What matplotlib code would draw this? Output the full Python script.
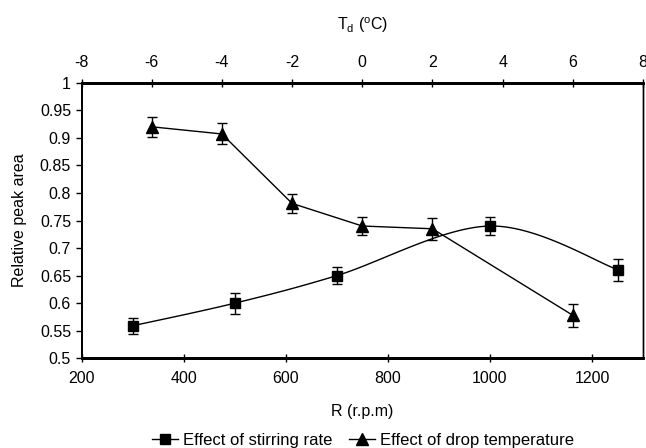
import numpy as np
import matplotlib
matplotlib.use("Agg")
import matplotlib.pyplot as plt
from matplotlib.lines import Line2D

plt.rcParams['font.family'] = ['Liberation Sans', 'DejaVu Sans']

# Effect of stirring rate (bottom axis)
rpm = [300, 500, 700, 1000, 1250]
area_rpm = [0.559, 0.600, 0.650, 0.740, 0.661]
err_rpm = [0.014, 0.019, 0.015, 0.016, 0.020]

# Effect of drop temperature (top axis)
temp = [-6, -4, -2, 0, 2, 6]
area_temp = [0.920, 0.907, 0.781, 0.740, 0.735, 0.578]
err_temp = [0.018, 0.019, 0.017, 0.016, 0.020, 0.021]

x_ticks = [200, 400, 600, 800, 1000, 1200]
t_ticks = [-8, -6, -4, -2, 0, 2, 4, 6, 8]
y_ticks = [0.5, 0.55, 0.6, 0.65, 0.7, 0.75, 0.8, 0.85, 0.9, 0.95, 1]


def smooth(xs, ys, n=30):
    # Catmull-Rom (Excel-style smoothed line)
    P = np.column_stack([xs, ys]).astype(float)
    out = []
    for i in range(len(P) - 1):
        p0 = P[i - 1] if i > 0 else P[i]
        p1, p2 = P[i], P[i + 1]
        p3 = P[i + 2] if i + 2 < len(P) else P[i + 1]
        c1 = p1 + (p2 - p0) / 6.0
        c2 = p2 - (p3 - p1) / 6.0
        t = np.linspace(0, 1, n)[:, None]
        seg = ((1 - t) ** 3) * p1 + 3 * ((1 - t) ** 2) * t * c1 + 3 * (1 - t) * t ** 2 * c2 + t ** 3 * p2
        out.append(seg if i == 0 else seg[1:])
    out = np.vstack(out)
    return out[:, 0], out[:, 1]


FS = 11.5

fig = plt.figure(figsize=(6.46, 4.48), dpi=100)
ax = fig.add_axes([0.1262, 0.2002, 0.8692, 0.6152])

sx, sy = smooth(rpm, area_rpm)
ax.plot(sx, sy, color='black', lw=1.0)
ax.errorbar(rpm, area_rpm, yerr=err_rpm, fmt='s', color='black', ms=6.8,
            capsize=3.3, elinewidth=1.0, capthick=1.0)
ax.set_xlim(200, 1300)
ax.set_ylim(0.5, 1.0)
ax.set_xticks(x_ticks)
ax.set_xticklabels([str(v) for v in x_ticks])
ax.set_yticks(y_ticks)
ax.set_yticklabels([f"{v:g}" for v in y_ticks])
ax.set_xlabel('R (r.p.m)', fontsize=FS, labelpad=13)
ax.set_ylabel('Relative peak area', fontsize=FS, labelpad=9)
ax.tick_params(axis='x', direction='inout', length=6, width=1.0, labelsize=FS, pad=6)
ax.tick_params(axis='y', direction='out', length=4.5, width=1.0, labelsize=FS, pad=3)

ax2 = ax.twiny()
ax2.plot(temp, area_temp, color='black', lw=1.0)
ax2.errorbar(temp, area_temp, yerr=err_temp, fmt='^', color='black', ms=8.5,
             capsize=3.3, elinewidth=1.0, capthick=1.0)
ax2.set_xlim(-8, 8)
ax2.set_xticks(t_ticks)
ax2.set_xticklabels([str(v) for v in t_ticks])
ax2.set_xlabel('T$_{\\mathregular{d}}$ ($^{\\mathregular{o}}$C)', fontsize=FS, labelpad=18)
ax2.tick_params(axis='x', direction='inout', length=6, width=1.0, labelsize=FS, pad=6)

for a in (ax, ax2):
    a.spines['top'].set_linewidth(2.0)
    a.spines['bottom'].set_linewidth(2.0)
    a.spines['left'].set_linewidth(1.3)
    a.spines['right'].set_linewidth(1.0)

handles = [Line2D([], [], color='black', marker='s', ms=6.5, lw=1.0),
           Line2D([], [], color='black', marker='^', ms=8, lw=1.0)]
fig.legend(handles, ['Effect of stirring rate', 'Effect of drop temperature'],
           loc='center left', bbox_to_anchor=(0.235, 0.0163), ncol=2, frameon=False,
           fontsize=12, handlelength=1.6, handletextpad=0.25, columnspacing=1.0,
           borderaxespad=0, borderpad=0)

fig.savefig('out.png', dpi=100)
